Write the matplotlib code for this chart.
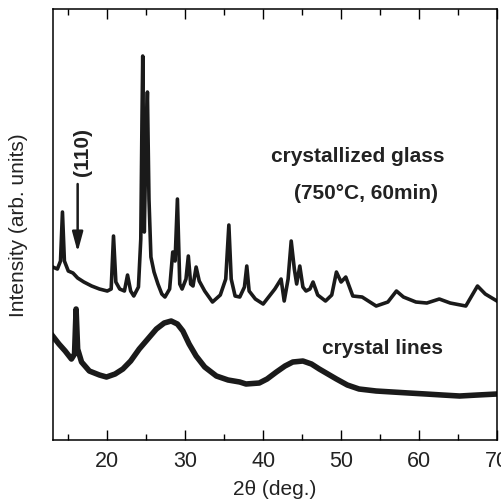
import numpy as np
import matplotlib
matplotlib.use("Agg")
import matplotlib.pyplot as plt
from matplotlib.ticker import MultipleLocator

plt.rcParams['font.family'] = ['Liberation Sans', 'DejaVu Sans']

# --- crystallized glass (750C, 60min), intensity in arb. units ---
tt_glass = [13.0, 13.6, 14.0, 14.25, 14.5, 15.0, 15.6, 16.2, 17.0, 18.0, 19.0, 20.0,
            20.5, 20.8, 21.1, 21.6, 22.2, 22.6, 23.0, 23.4, 24.0, 24.3, 24.45, 24.55,
            24.75, 24.95, 25.15, 25.35, 25.6, 26.0, 26.5, 27.0, 27.4, 28.0, 28.4, 28.7,
            29.0, 29.3, 29.6, 30.1, 30.4, 30.7, 31.0, 31.4, 31.8, 32.5, 33.5, 34.5,
            35.2, 35.6, 35.9, 36.4, 37.0, 37.6, 37.9, 38.2, 39.0, 40.0, 40.8, 41.5,
            42.3, 42.7, 43.2, 43.6, 44.0, 44.3, 44.7, 45.1, 45.5, 46.0, 46.4, 47.0,
            48.0, 48.8, 49.4, 50.0, 50.6, 51.5, 52.7, 54.5, 56.0, 57.1, 58.0, 59.6,
            61.0, 62.6, 64.0, 66.0, 67.5, 68.5, 70.0]
int_glass = [173, 171, 179, 228, 179, 169, 167, 162, 158, 154, 151, 149,
             151, 204, 158, 151, 149, 165, 149, 144, 153, 201, 318, 384,
             208, 291, 348, 241, 183, 168, 156, 146, 143, 151, 188, 179,
             241, 156, 151, 161, 184, 156, 154, 173, 159, 149, 138, 145,
             161, 215, 161, 144, 143, 153, 174, 149, 141, 136, 144, 151,
             161, 139, 161, 199, 171, 156, 174, 153, 149, 151, 158, 145,
             139, 145, 168, 158, 163, 144, 143, 134, 138, 149, 143, 138,
             137, 141, 137, 134, 154, 146, 139]

# --- crystal lines (amorphous pattern) ---
tt_lines = [13.0, 13.8, 14.6, 15.4, 15.8, 16.0, 16.2, 16.7, 17.7, 19.0, 19.9, 21.0,
            22.0, 23.0, 24.1, 25.2, 26.3, 27.3, 28.2, 29.0, 29.7, 30.5, 31.4, 32.5,
            34.0, 35.5, 37.0, 37.8, 39.5, 40.5, 41.7, 42.8, 43.8, 45.1, 46.2, 47.2,
            48.3, 49.4, 50.8, 52.3, 54.5, 56.6, 58.7, 60.9, 63.0, 65.2, 67.5, 70.0]
int_lines = [104, 96, 89, 81, 86, 131, 91, 78, 69, 65, 63, 66,
             71, 79, 91, 101, 111, 117, 119, 116, 109, 96, 84, 73,
             64, 60, 58, 56, 57, 61, 68, 74, 78, 79, 76, 71,
             66, 61, 55, 51, 49, 48, 47, 46, 45, 44, 45, 46]

fig = plt.figure(figsize=(5.02, 5.02), dpi=100)
ax = fig.add_axes([0.105, 0.1215, 0.885, 0.8585])

ax.plot(tt_glass, int_glass, color="#1a1a1a", lw=2.6)
ax.plot(tt_lines, int_lines, color="#1a1a1a", lw=4.0)

ax.set_xlim(13, 70)
ax.set_ylim(0, 431)
ax.xaxis.set_major_locator(MultipleLocator(10))
ax.xaxis.set_minor_locator(MultipleLocator(5))
ax.tick_params(axis="x", which="both", direction="in", top=True, labelsize=15.5,
               pad=7, width=1.0, labelcolor="#222222")
ax.tick_params(axis="x", which="major", length=7)
ax.tick_params(axis="x", which="minor", length=4)
ax.set_yticks([])
for s in ax.spines.values():
    s.set_linewidth(1.1)

ax.set_xlabel("2θ (deg.)", fontsize=15, labelpad=6, color="#222222")
ax.set_ylabel("Intensity (arb. units)", fontsize=15, labelpad=18, color="#222222")

ax.text(52.1, 285, "crystallized glass", fontsize=15, fontweight="bold",
        ha="center", va="center", color="#222222")
ax.text(53.2, 248, "(750°C, 60min)", fontsize=15, fontweight="bold",
        ha="center", va="center", color="#222222")
ax.text(55.3, 93, "crystal lines", fontsize=15, fontweight="bold",
        ha="center", va="center", color="#222222")
ax.text(16.8, 289, "(110)", fontsize=15, fontweight="bold", rotation=90,
        ha="center", va="center", color="#222222")
ax.annotate("", xy=(16.2, 188), xytext=(16.2, 256),
            arrowprops=dict(arrowstyle="-|>,head_length=0.85,head_width=0.23",
                            color="#1a1a1a", lw=1.8, mutation_scale=14,
                            shrinkA=0, shrinkB=0))

fig.savefig("out.png", dpi=100)
